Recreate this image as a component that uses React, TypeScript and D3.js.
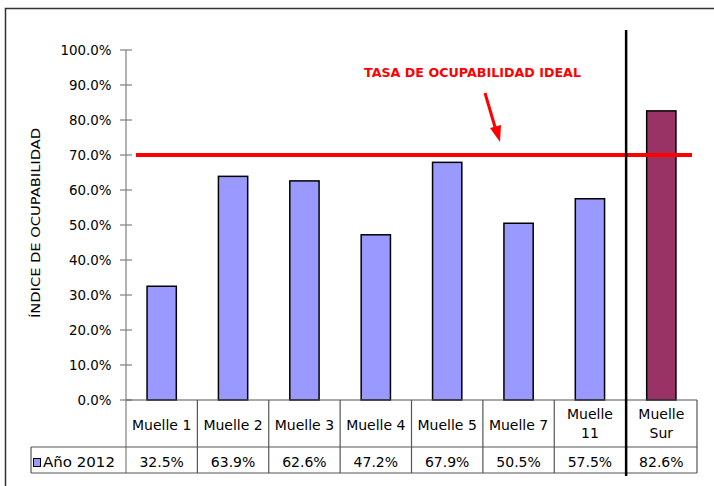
import React from "react";
import * as d3 from "d3";

const categories: string[][] = [
  ["Muelle 1"],
  ["Muelle 2"],
  ["Muelle 3"],
  ["Muelle 4"],
  ["Muelle 5"],
  ["Muelle 7"],
  ["Muelle", "11"],
  ["Muelle", "Sur"],
];
const values: number[] = [32.5, 63.9, 62.6, 47.2, 67.9, 50.5, 57.5, 82.6];
const valueLabels: string[] = ["32.5%", "63.9%", "62.6%", "47.2%", "67.9%", "50.5%", "57.5%", "82.6%"];
const yTicks: number[] = [0, 10, 20, 30, 40, 50, 60, 70, 80, 90, 100];
const idealRate = 70;
const seriesName = "Año 2012";
const idealLabel = "TASA DE OCUPABILIDAD IDEAL";
const yTitle = "ÍNDICE DE OCUPABILIDAD";

const W = 714;
const H = 486;
const FONT = "'DejaVu Sans', Verdana, sans-serif";

export default function App() {
  const x = d3
    .scaleBand<number>()
    .domain(d3.range(categories.length))
    .range([126, 697])
    .padding(0);
  const y = d3.scaleLinear().domain([0, 100]).range([400, 50]);
  const bw = x.bandwidth();
  const barW = bw * 0.41;
  const rowTop = y(0);
  const rowMid = 447;
  const rowBot = 473;
  const sepX = x(7)! + 0.5;

  return (
    <div style={{ position: "fixed", left: 0, top: 0 }}>
      <svg width={W} height={H} style={{ display: "block", background: "#fff" }} fontFamily={FONT}>
        <rect x={5.5} y={8.5} width={760} height={600} fill="#fff" stroke="#333" strokeWidth={1.5} />

        {/* Y axis title */}
        <text
          transform={`translate(40,${223}) rotate(-90)`}
          textAnchor="middle"
          fontSize={12}
          fill="#000"
          textLength={190}
          lengthAdjust="spacingAndGlyphs"
        >
          {yTitle}
        </text>

        {/* Y axis */}
        <line x1={126} x2={126} y1={y(100)} y2={rowBot} stroke="#808080" strokeWidth={1.2} />
        {yTicks.map((t) => (
          <g key={t}>
            <line x1={120} x2={132} y1={y(t)} y2={y(t)} stroke="#808080" strokeWidth={1.2} />
            <text x={111.5} y={y(t) + 5} textAnchor="end" fontSize={13.4} fill="#000">
              {t.toFixed(1) + "%"}
            </text>
          </g>
        ))}

        {/* Bars */}
        {values.map((v, i) => (
          <rect
            key={i}
            x={x(i)! + bw / 2 - barW / 2}
            y={y(v)}
            width={barW}
            height={y(0) - y(v)}
            fill={i === 7 ? "#993366" : "#9999FF"}
            stroke="#000"
            strokeWidth={1.5}
          />
        ))}

        {/* Ideal line */}
        <line x1={136} x2={692} y1={y(idealRate)} y2={y(idealRate)} stroke="#FF0000" strokeWidth={4} />

        {/* Label and arrow */}
        <text
          x={364}
          y={77}
          fontSize={12}
          fontWeight="bold"
          fill="#FF0000"
          textLength={217}
          lengthAdjust="spacingAndGlyphs"
        >
          {idealLabel}
        </text>
        <line x1={485} y1={93} x2={495} y2={127} stroke="#FF0000" strokeWidth={3} />
        <polygon points="490,128 501,125 500,142" fill="#FF0000" />

        {/* Table */}
        <line x1={126} x2={697} y1={rowTop} y2={rowTop} stroke="#555" strokeWidth={1.2} />
        <line x1={31} x2={697} y1={rowMid} y2={rowMid} stroke="#555" strokeWidth={1.2} />
        <line x1={31} x2={697} y1={rowBot} y2={rowBot} stroke="#555" strokeWidth={1.2} />
        <line x1={31} x2={31} y1={rowMid} y2={rowBot} stroke="#555" strokeWidth={1.2} />
        {d3.range(1, categories.length + 1).map((i) => {
          const xx = i === categories.length ? 697 : x(i)!;
          return <line key={i} x1={xx} x2={xx} y1={rowTop} y2={rowBot} stroke="#555" strokeWidth={1.2} />;
        })}
        {categories.map((c, i) => {
          const cx = x(i)! + bw / 2;
          return (
            <g key={i}>
              {c.length === 1 ? (
                <text x={cx} y={430} textAnchor="middle" fontSize={14} fill="#000">
                  {c[0]}
                </text>
              ) : (
                c.map((s, j) => (
                  <text key={j} x={cx} y={419 + j * 19} textAnchor="middle" fontSize={14} fill="#000">
                    {s}
                  </text>
                ))
              )}
              <text x={cx} y={467} textAnchor="middle" fontSize={14} fill="#000">
                {valueLabels[i]}
              </text>
            </g>
          );
        })}
        <rect x={33.5} y={458.5} width={7} height={8} fill="#9999FF" stroke="#000" strokeWidth={1} />
        <text x={43} y={467} fontSize={14} fill="#000" textLength={72} lengthAdjust="spacingAndGlyphs">
          {seriesName}
        </text>

        {/* Separator */}
        <line x1={sepX} x2={sepX} y1={30} y2={476} stroke="#000" strokeWidth={2.5} />
      </svg>
    </div>
  );
}
